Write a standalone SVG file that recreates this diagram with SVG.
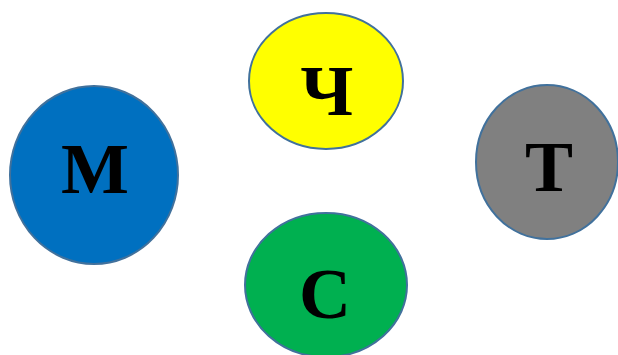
<svg xmlns="http://www.w3.org/2000/svg" width="618" height="355" viewBox="0 0 618 355">
<style>
.n{stroke:#41719C;stroke-width:2}
.t{font-family:"Liberation Serif","Times New Roman",serif;font-weight:bold;font-size:72px;text-anchor:middle;fill:#000}
</style>
<rect width="618" height="355" fill="#fff"/>
<g id="connectors"/>
<g id="node-m"><ellipse class="n" cx="94" cy="175" rx="84" ry="89" fill="#0070C0"/><text class="t" x="95" y="193">М</text></g>
<g id="node-ch"><ellipse class="n" cx="326" cy="81" rx="77" ry="68" fill="#FFFF00"/><text class="t" x="327" y="115">Ч</text></g>
<g id="node-t"><ellipse class="n" cx="547" cy="162" rx="71" ry="77" fill="#808080"/><text class="t" x="549" y="191">Т</text></g>
<g id="node-s"><ellipse class="n" cx="326" cy="285" rx="81" ry="72" fill="#00B050"/><text class="t" x="325" y="318">С</text></g>
</svg>
